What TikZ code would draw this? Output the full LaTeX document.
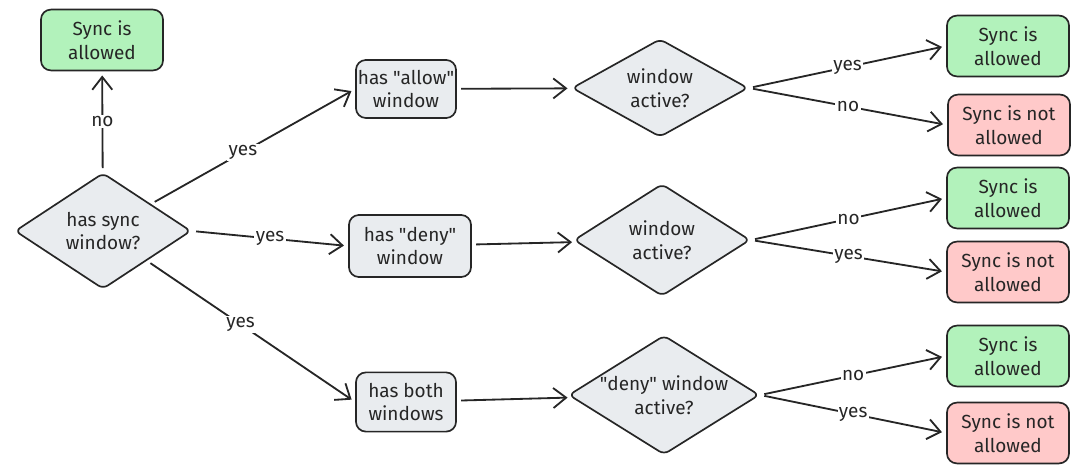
\documentclass[tikz,border=0pt]{standalone}
\usepackage{fontspec}
\setmainfont{Fira Sans}
\usepackage{tikz}
\usetikzlibrary{arrows.meta}
\usetikzlibrary{shapes.geometric}
\definecolor{okgreen}{HTML}{B2F2BB}
\definecolor{nored}{HTML}{FFC9C9}
\definecolor{askgray}{HTML}{E9ECEF}
\tikzset{t/.style={font=\fontsize{13.5}{17}\selectfont,align=center,text=black!85}}
\tikzset{box/.style={t,draw=black!85,line width=1.2pt,rounded corners=7pt,inner sep=0pt}}
\tikzset{gbox/.style={box,fill=okgreen,minimum width=3.05cm,minimum height=1.52cm}}
\tikzset{rbox/.style={box,fill=nored,minimum width=3.05cm,minimum height=1.52cm}}
\tikzset{qbox/.style={box,fill=askgray}}
\tikzset{ask/.style={t,diamond,draw=black!85,line width=1.2pt,fill=askgray,inner sep=0pt,rounded corners=4pt,shape aspect=1.6}}
\tikzset{arr/.style={draw=black!85,line width=1.3pt,-{Straight Barb[length=3.2mm,width=5mm,line width=1.3pt]},shorten >=3pt,shorten <=3pt}}
\tikzset{lbl/.style={t,fill=white,inner sep=1pt}}

\begin{document}
\begin{tikzpicture}[x=0.025cm,y=-0.025cm,line join=round]
  \useasboundingbox (0,0) rectangle (1081,473);
  % left part
  \node[gbox] (top) at (102,40) {Sync is\\allowed};
  \node[ask,minimum width=4.4cm,minimum height=2.9cm,shape aspect=1.5] (sync) at (103,231) {has sync\\window?};
  \draw[arr] (sync) -- node[lbl]{no} (top);
  % middle column
  \node[qbox,minimum width=2.5cm,minimum height=1.45cm] (allow) at (406,89) {has \textquotedbl allow\textquotedbl\\window};
  \node[qbox,minimum width=3.05cm,minimum height=1.55cm] (deny) at (410,246) {has \textquotedbl deny\textquotedbl\\window};
  \node[qbox,minimum width=2.5cm,minimum height=1.48cm] (both) at (406,402) {has both\\windows};
  \draw[arr] (sync) -- node[lbl,pos=.45]{yes} (allow.west);
  \draw[arr] (sync.east) -- node[lbl]{yes} (deny.west);
  \draw[arr] (sync) -- node[lbl,pos=.45]{yes} (both.west);
  % checks
  \node[ask,minimum width=4.4cm,minimum height=2.45cm] (wa) at (660,88) {window\\active?};
  \node[ask,minimum width=4.4cm,minimum height=2.8cm] (wd) at (662,240) {window\\active?};
  \node[ask,minimum width=4.4cm,minimum height=2.75cm] (wb) at (664,395) {\textquotedbl deny\textquotedbl{} window\\active?};
  \draw[arr] (allow) -- (wa);
  \draw[arr] (deny) -- (wd);
  \draw[arr] (both) -- (wb);
  % results
  \node[gbox] (g1) at (1008,46) {Sync is\\allowed};
  \node[rbox] (r1) at (1009,125) {Sync is not\\allowed};
  \node[gbox] (g2) at (1008,198) {Sync is\\allowed};
  \node[rbox] (r2) at (1008,272) {Sync is not\\allowed};
  \node[gbox] (g3) at (1008,356) {Sync is\\allowed};
  \node[rbox] (r3) at (1008,433) {Sync is not\\allowed};
  \draw[arr] (wa.east) -- node[lbl]{yes} (g1.west);
  \draw[arr] (wa.east) -- node[lbl]{no} (r1.west);
  \draw[arr] (wd.east) -- node[lbl]{no} (g2.west);
  \draw[arr] (wd.east) -- node[lbl]{yes} (r2.west);
  \draw[arr] (wb.east) -- node[lbl]{no} (g3.west);
  \draw[arr] (wb.east) -- node[lbl]{yes} (r3.west);
\end{tikzpicture}
\end{document}
